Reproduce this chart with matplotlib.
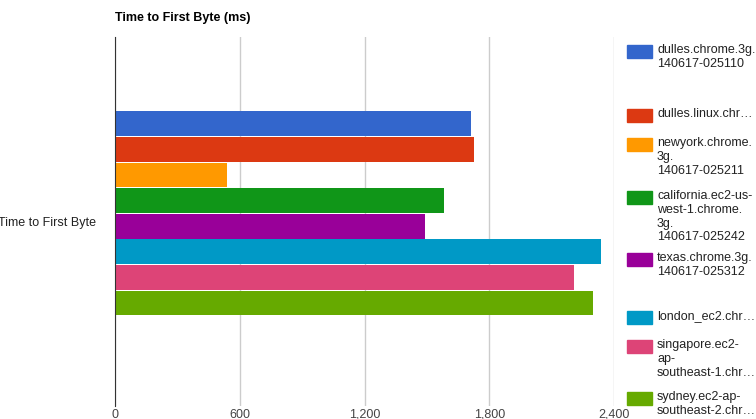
import matplotlib.pyplot as plt
import matplotlib.patches as mpatches

plt.rcParams['font.family'] = ['Liberation Sans', 'DejaVu Sans']

series = ["dulles.chrome.3g.\n140617-025110", "dulles.linux.chr…", "newyork.chrome.\n3g.\n140617-025211",
          "california.ec2-us-\nwest-1.chrome.\n3g.\n140617-025242", "texas.chrome.3g.\n140617-025312",
          "london_ec2.chr…", "singapore.ec2-\nap-\nsoutheast-1.chr…", "sydney.ec2-ap-\nsoutheast-2.chr…"]
values = [1712, 1727, 539, 1582, 1491, 2338, 2208, 2299]
colors = ["#3366cc", "#dc3912", "#ff9900", "#109618", "#990099", "#0099c6", "#dd4477", "#66aa00"]
ticks = [0, 600, 1200, 1800, 2400]
tick_labels = ["0", "600", "1,200", "1,800", "2,400"]

W, H = 756, 419
fig = plt.figure(figsize=(W / 100, H / 100), dpi=100)
ax = fig.add_axes([115 / W, (H - 406) / H, (614 - 115) / W, (406 - 37) / H])

ph = 369
bh = 25.6 / ph
top = 1 - (111 - 37) / ph
for i, (v, c) in enumerate(zip(values, colors)):
    ax.barh(top - (i + 0.5) * bh, v, height=bh * 0.97, color=c)
ax.set_ylim(0, 1)
ax.set_xlim(0, 2400)
ax.set_xticks(ticks)
ax.set_xticklabels(tick_labels, fontsize=9, color="#444444")
ax.set_yticks([0.5])
ax.set_yticklabels(["Time to First Byte"], fontsize=9, color="#222222")
ax.tick_params(axis="x", length=0, pad=2)
ax.tick_params(axis="y", length=0, pad=14)
ax.grid(axis="x", color="#cccccc", linewidth=1)
ax.set_axisbelow(True)
for s in ["top", "right", "bottom"]:
    ax.spines[s].set_visible(False)
ax.spines["left"].set_color("#333333")

fig.text(115 / W, 1 - 18 / H, "Time to First Byte (ms)", fontsize=9, fontweight="bold", va="center")

ys = [45, 109, 138, 191, 253, 311, 340, 392]
for lab, c, y in zip(series, colors, ys):
    fig.patches.append(mpatches.Rectangle((627 / W, 1 - (y + 13) / H), 25 / W, 13 / H,
                                          transform=fig.transFigure, color=c))
    fig.text(657 / W, 1 - (y - 1) / H, lab, fontsize=9, va="top", color="#222222", linespacing=1.2)

fig.savefig("out.png", dpi=100)
